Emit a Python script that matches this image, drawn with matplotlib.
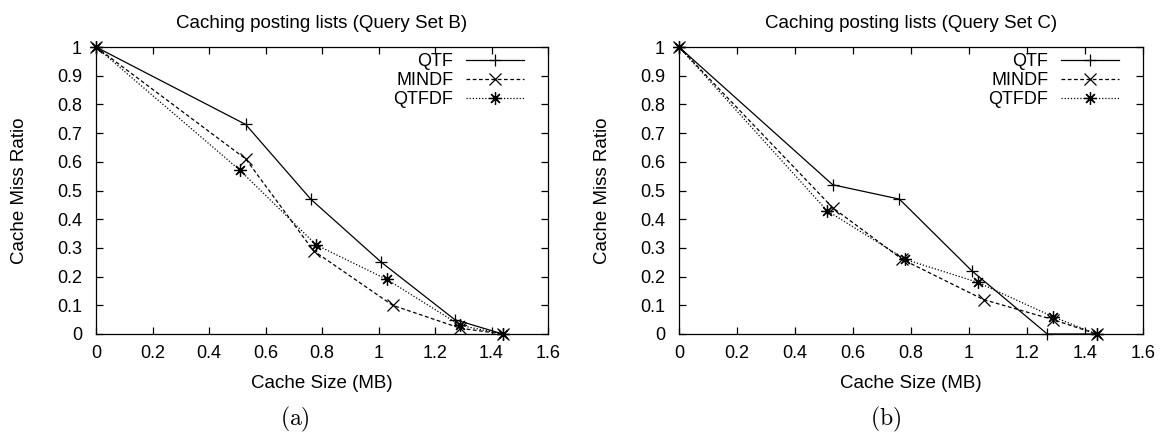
import matplotlib
matplotlib.use('Agg')
import matplotlib.pyplot as plt

plt.rcParams['font.family'] = ['Liberation Sans', 'DejaVu Sans']
plt.rcParams['mathtext.fontset'] = 'cm'

# ****** Data ******
# Query Set B
b_qtf_x = [0, 0.53, 0.76, 1.01, 1.27, 1.44]
b_qtf_y = [1, 0.73, 0.47, 0.25, 0.05, 0]
b_mindf_x = [0, 0.53, 0.77, 1.05, 1.29, 1.44]
b_mindf_y = [1, 0.61, 0.29, 0.10, 0.02, 0]
b_qtfdf_x = [0, 0.51, 0.78, 1.03, 1.29, 1.44]
b_qtfdf_y = [1, 0.57, 0.31, 0.19, 0.03, 0]

# Query Set C
c_qtf_x = [0, 0.53, 0.76, 1.01, 1.27, 1.44]
c_qtf_y = [1, 0.52, 0.47, 0.22, 0, 0]
c_mindf_x = [0, 0.53, 0.77, 1.05, 1.29, 1.44]
c_mindf_y = [1, 0.44, 0.26, 0.12, 0.05, 0]
c_qtfdf_x = [0, 0.51, 0.78, 1.03, 1.29, 1.44]
c_qtfdf_y = [1, 0.43, 0.26, 0.18, 0.06, 0]

x_ticks = [0, 0.2, 0.4, 0.6, 0.8, 1, 1.2, 1.4, 1.6]
y_ticks = [0, 0.1, 0.2, 0.3, 0.4, 0.5, 0.6, 0.7, 0.8, 0.9, 1]

FIG_W, FIG_H = 1169, 437


def fmt(v):
    return ('%g' % v)


def draw_panel(ax, title, series, ax_w_px, ax_h_px):
    styles = [('QTF', '-', '+'), ('MINDF', (0, (3, 2)), 'x'), ('QTFDF', (0, (1, 1.5)), (8, 2, 0))]
    for (label, ls, mk), (xs, ys) in zip(styles, series):
        ax.plot(xs, ys, color='black', linewidth=0.9, linestyle=ls, marker=mk,
                markersize=9, markeredgewidth=0.9, label=label, clip_on=False, zorder=3)
    ax.set_xlim(0, 1.6)
    ax.set_ylim(0, 1)
    ax.set_xticks(x_ticks)
    ax.set_xticklabels([fmt(v) for v in x_ticks])
    ax.set_yticks(y_ticks)
    ax.set_yticklabels([fmt(v) for v in y_ticks])
    ax.tick_params(direction='in', top=True, right=True, length=5, width=0.9,
                   labelsize=13)
    ax.tick_params(axis='y', pad=10)
    ax.tick_params(axis='x', pad=8)
    for s in ax.spines.values():
        s.set_linewidth(0.9)
    ax.set_title(title, fontsize=13.5, pad=14)
    ax.set_xlabel('Cache Size (MB)', fontsize=13.5, labelpad=9)
    ax.set_ylabel('Cache Miss Ratio', fontsize=13.5, labelpad=21)
    leg = ax.legend(loc='upper right', frameon=False, markerfirst=False, fontsize=13,
                    handlelength=3.2, handletextpad=0.7, labelspacing=0.1,
                    borderpad=0.3, borderaxespad=0,
                    bbox_to_anchor=(1 - 19.0 / ax_w_px, 1 - 1.0 / ax_h_px))
    for t in leg.get_texts():
        t.set_ha('right')


fig = plt.figure(figsize=(FIG_W / 100, FIG_H / 100), dpi=100)
ax1 = fig.add_axes([96 / FIG_W, 103 / FIG_H, 452 / FIG_W, 287 / FIG_H])
ax2 = fig.add_axes([679 / FIG_W, 103 / FIG_H, 464 / FIG_W, 287 / FIG_H])

draw_panel(ax1, 'Caching posting lists (Query Set B)',
           [(b_qtf_x, b_qtf_y), (b_mindf_x, b_mindf_y), (b_qtfdf_x, b_qtfdf_y)], 452, 287)
draw_panel(ax2, 'Caching posting lists (Query Set C)',
           [(c_qtf_x, c_qtf_y), (c_mindf_x, c_mindf_y), (c_qtfdf_x, c_qtfdf_y)], 464, 287)

fig.text(295 / FIG_W, 1 - 419 / FIG_H, r'$(\mathrm{a})$', ha='center', va='center', fontsize=17)
fig.text(886 / FIG_W, 1 - 419 / FIG_H, r'$(\mathrm{b})$', ha='center', va='center', fontsize=17)

fig.savefig('out.png', dpi=100)
